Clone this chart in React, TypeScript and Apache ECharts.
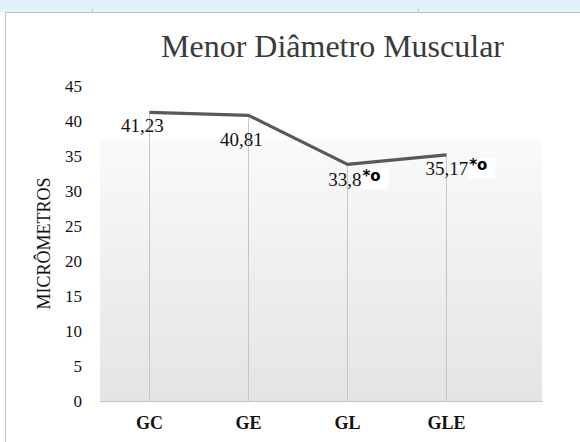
import React, { useEffect, useRef } from "react";
import * as echarts from "echarts";

const title = "Menor Diâmetro Muscular";
const yAxisName = "MICRÔMETROS";
const categories = ["GC", "GE", "GL", "GLE"];
const values = [41.23, 40.81, 33.8, 35.17];
const marks = ["", "", "*o", "*o"];
const yMin = 0;
const yMax = 45;
const yStep = 5;

// label offsets (style only)
const labelOffsets: [number, number][] = [
  [-7, 13],
  [-7, 24],
  [11, 15],
  [14, 14],
];

const SERIF = "'Liberation Serif', 'Times New Roman', serif";

export default function App() {
  const ref = useRef<HTMLDivElement>(null);
  useEffect(() => {
    if (!ref.current) return;
    const chart = echarts.init(ref.current, null, { renderer: "svg" });
    const idx = categories.map((_, i) => i);
    chart.setOption({
      animation: false,
      backgroundColor: "#ffffff",
      title: {
        text: title,
        left: 156,
        top: 25,
        textStyle: { fontFamily: SERIF, fontSize: 32, fontWeight: "normal", color: "#3a3a3a" },
      },
      graphic: [
        { type: "rect", shape: { x: 0, y: 0, width: 580, height: 12 }, style: { fill: "#e0f3fb" }, silent: true },
        { type: "line", shape: { x1: 5, y1: 12.5, x2: 580, y2: 12.5 }, style: { stroke: "#c4c4c4", lineWidth: 1 }, silent: true },
        { type: "line", shape: { x1: 5.5, y1: 12, x2: 5.5, y2: 442 }, style: { stroke: "#c4c4c4", lineWidth: 1 }, silent: true },
        { type: "line", shape: { x1: 92.5, y1: 9, x2: 92.5, y2: 12 }, style: { stroke: "#c4c4c4", lineWidth: 1 }, silent: true },
        { type: "line", shape: { x1: 418.5, y1: 9, x2: 418.5, y2: 12 }, style: { stroke: "#c4c4c4", lineWidth: 1 }, silent: true },
      ],
      grid: {
        left: 100,
        right: 38,
        top: 86,
        bottom: 41,
        show: true,
        borderWidth: 0,
        backgroundColor: new echarts.graphic.LinearGradient(0, 0, 0, 1, [
          { offset: 0, color: "#ffffff" },
          { offset: 0.17, color: "#ffffff" },
          { offset: 0.171, color: "#fafafa" },
          { offset: 1, color: "#e4e4e4" },
        ]),
      },
      xAxis: {
        type: "value",
        min: -0.5,
        max: 3.965,
        splitLine: { show: false },
        axisTick: { show: false },
        axisLine: { show: true, onZero: false, lineStyle: { color: "#c2c2c2", width: 1 } },
        axisLabel: {
          customValues: idx,
          formatter: (v: number) => categories[Math.round(v)] ?? "",
          margin: 13,
          fontFamily: SERIF,
          fontSize: 18,
          fontWeight: "bold",
          color: "#111",
        },
      },
      yAxis: {
        type: "value",
        min: yMin,
        max: yMax,
        interval: yStep,
        name: yAxisName,
        nameLocation: "middle",
        nameRotate: 90,
        nameGap: 47,
        nameTextStyle: { fontFamily: SERIF, fontSize: 18, color: "#111" },
        axisLine: { show: false },
        axisTick: { show: false },
        splitLine: { show: false },
        axisLabel: { fontFamily: SERIF, fontSize: 17, color: "#111", margin: 18 },
      },
      series: [
        {
          type: "bar",
          data: values.map((v, i) => [i, v]),
          barWidth: 1,
          itemStyle: { color: "#c6c6c6" },
          silent: true,
          z: 1,
        },
        {
          type: "line",
          data: values.map((v, i) => ({
            value: [i, v],
            label: { offset: labelOffsets[i] },
          })),
          symbol: "circle",
          symbolSize: 1,
          itemStyle: { color: "rgba(0,0,0,0)" },
          lineStyle: { color: "#595959", width: 3.2 },
          z: 3,
          label: {
            show: true,
            position: "inside",
            formatter: (p: any) => {
              const i = p.dataIndex;
              const s = values[i].toString().replace(".", ",");
              return marks[i] ? `{v|${s}}{m|${marks[i]}}` : `{v|${s}}`;
            },
            rich: {
              v: { fontFamily: SERIF, fontSize: 19, color: "#111", lineHeight: 22 },
              m: {
                fontFamily: "'DejaVu Sans', Verdana, sans-serif",
                fontSize: 15,
                fontWeight: "bold",
                color: "#000",
                verticalAlign: "top",
                backgroundColor: "#ffffff",
                padding: [0, 8, 6, 1],
                lineHeight: 20,
              },
            },
          },
        },
      ],
    });
    return () => chart.dispose();
  }, []);
  return (
    <div
      ref={ref}
      style={{ position: "absolute", left: 0, top: 0, width: 580, height: 442 }}
    />
  );
}
